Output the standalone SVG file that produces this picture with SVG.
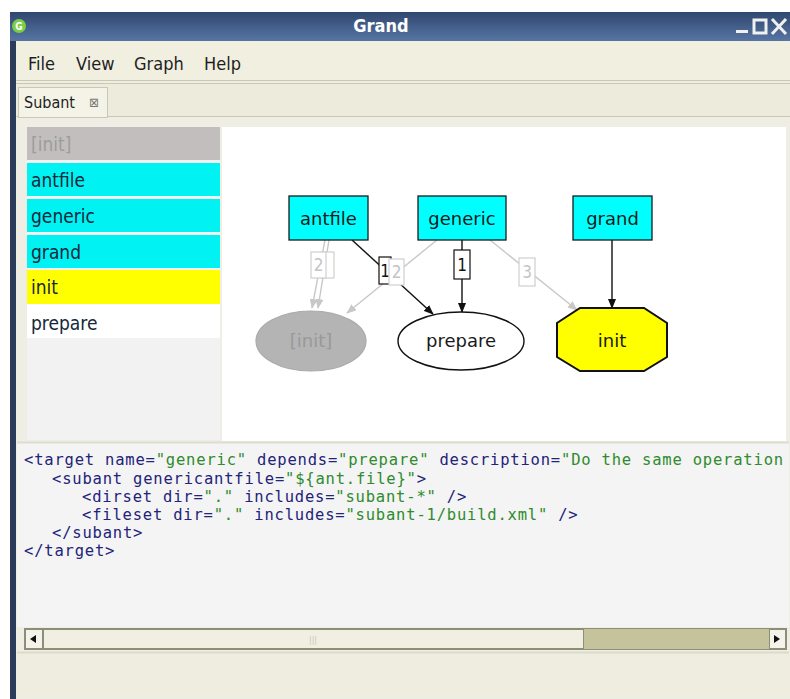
<svg xmlns="http://www.w3.org/2000/svg" width="790" height="699" viewBox="0 0 790 699">
<style>
.ui{font-family:"DejaVu Sans Condensed","DejaVu Sans",sans-serif;}
.menu{font-size:18px;fill:#1e1e1e;}
.li{font-size:19px;fill:#14283a;}
.nt{font-family:"DejaVu Sans",sans-serif;font-size:18px;text-anchor:middle;fill:#1a1a1a;}
.box{fill:#00ffff;stroke:#1a1a1a;stroke-width:1.3;}
.eb{stroke:#111;stroke-width:1.4;fill:none;}
.eg{stroke:#c8c8c8;stroke-width:1.4;fill:none;}
.lb{fill:#fff;stroke:#111;stroke-width:1.2;}
.lg{fill:#fff;stroke:#cfcfcf;stroke-width:1.2;}
.lt{font-family:"DejaVu Sans Condensed","DejaVu Sans",sans-serif;font-size:17px;text-anchor:middle;}
.code{font-family:"DejaVu Sans Mono",monospace;font-size:15.5px;letter-spacing:0.8px;fill:#23237a;}
.v{fill:#2e8b2e;}
</style>
<defs>
<marker id="ab" markerWidth="10" markerHeight="8" refX="9" refY="4" orient="auto" markerUnits="userSpaceOnUse"><path d="M0,0 L10,4 L0,8 z" fill="#111"/></marker>
<marker id="ag" markerWidth="10" markerHeight="8" refX="9" refY="4" orient="auto" markerUnits="userSpaceOnUse"><path d="M0,0 L10,4 L0,8 z" fill="#c8c8c8"/></marker>
<linearGradient id="tb" x1="0" y1="0" x2="0" y2="1"><stop offset="0" stop-color="#2f4770"/><stop offset="1" stop-color="#5775a3"/></linearGradient>
</defs>
<rect width="790" height="699" fill="#ffffff"/>
<g id="window">
<rect x="10" y="12" width="780" height="687" fill="#2c3b58"/>
<rect x="10" y="12" width="780" height="29" fill="url(#tb)"/>
<circle cx="19" cy="26" r="7" fill="#7ccf45"/>
<text x="19" y="30" class="ui" font-size="10" font-weight="bold" fill="#fff" text-anchor="middle">G</text>
<text x="381" y="32" class="ui" font-size="18" font-weight="bold" fill="#ffffff" text-anchor="middle">Grand</text>
<rect x="736" y="30" width="12" height="3" fill="#f0f0f0"/>
<rect x="754" y="20" width="12" height="13" fill="none" stroke="#f0f0f0" stroke-width="3"/>
<path d="M772,19 L786,34 M786,19 L772,34" stroke="#f0f0f0" stroke-width="3"/>
<rect x="16" y="41" width="774" height="658" fill="#efeee2"/>
</g>
<g id="menubar">
<rect x="16" y="41" width="774" height="40" fill="#f0efe0"/>
<line x1="16" y1="80.5" x2="790" y2="80.5" stroke="#c9c8b4"/>
<line x1="16" y1="83.5" x2="790" y2="83.5" stroke="#c9c8b4"/>
<text class="ui menu" x="28" y="70">File</text>
<text class="ui menu" x="76" y="70">View</text>
<text class="ui menu" x="134" y="70">Graph</text>
<text class="ui menu" x="204" y="70">Help</text>
</g>
<g id="tabbar">
<rect x="16" y="84" width="774" height="33" fill="#ecebdc"/>
<line x1="16" y1="116.5" x2="790" y2="116.5" stroke="#c9c8b4"/>
<rect x="18.5" y="87.5" width="89" height="30" fill="#f4f3e8" stroke="#c9c8b4"/>
<text class="ui" x="24" y="108" font-size="16" fill="#1e1e1e">Subant</text>
<text class="ui" x="94" y="107" font-size="13" fill="#777" text-anchor="middle">⊠</text>
</g>
<g id="content">
<rect x="17" y="118" width="773" height="532" fill="#efeee4"/>
<rect x="222" y="127" width="564" height="314" fill="#ffffff"/>
<rect x="17" y="443" width="772" height="184" fill="#f4f4f4"/>
<line x1="17" y1="442.5" x2="789" y2="442.5" stroke="#dedbd0" stroke-width="2"/>
</g>
<g id="list">
<rect x="27" y="127" width="193" height="313" fill="#f2f2f2"/>
<rect x="27" y="127" width="193" height="33" fill="#c2bebe"/>
<rect x="27" y="163" width="193" height="33" fill="#00f2f2"/>
<rect x="27" y="199" width="193" height="33" fill="#00f2f2"/>
<rect x="27" y="235" width="193" height="33" fill="#00f2f2"/>
<rect x="27" y="270" width="193" height="34" fill="#ffff00"/>
<rect x="27" y="304" width="193" height="34" fill="#ffffff"/>
<text class="ui li" x="31" y="151" style="fill:#9c9c9c">[init]</text>
<text class="ui li" x="31" y="187">antfile</text>
<text class="ui li" x="31" y="223">generic</text>
<text class="ui li" x="31" y="259">grand</text>
<text class="ui li" x="31" y="294">init</text>
<text class="ui li" x="31" y="330">prepare</text>
</g>
<g id="connectors">
<line class="eg" x1="325" y1="240" x2="312" y2="308" marker-end="url(#ag)"/>
<line class="eg" x1="329" y1="240" x2="318" y2="308" marker-end="url(#ag)"/>
<line class="eg" x1="437" y1="240" x2="347" y2="313" marker-end="url(#ag)"/>
<line class="eg" x1="490" y1="240" x2="577" y2="310" marker-end="url(#ag)"/>
<line class="eb" x1="352" y1="240" x2="433" y2="314" marker-end="url(#ab)"/>
<line class="eb" x1="462" y1="240" x2="462" y2="312" marker-end="url(#ab)"/>
<line class="eb" x1="612" y1="240" x2="612" y2="308" marker-end="url(#ab)"/>
<rect class="lg" x="321" y="252" width="13" height="26"/>
<rect class="lg" x="311" y="252" width="15" height="26"/>
<text class="lt" x="318.5" y="271" fill="#c4c4c4">2</text>
<rect class="lb" x="379" y="257" width="12" height="27"/>
<text class="lt" x="385" y="277" fill="#111">1</text>
<rect class="lg" x="389" y="259" width="15" height="26"/>
<text class="lt" x="396.5" y="278" fill="#c4c4c4">2</text>
<rect class="lb" x="454" y="250" width="16" height="29"/>
<text class="lt" x="462" y="271" fill="#111">1</text>
<rect class="lg" x="519" y="258" width="16" height="28"/>
<text class="lt" x="527" y="278" fill="#c4c4c4">3</text>
</g>
<g id="node-antfile"><rect class="box" x="289" y="196" width="79" height="44"/><text class="nt" x="328.5" y="225">antfile</text></g>
<g id="node-generic"><rect class="box" x="418" y="196" width="88" height="44"/><text class="nt" x="462" y="225">generic</text></g>
<g id="node-grand"><rect class="box" x="573" y="196" width="79" height="44"/><text class="nt" x="612.5" y="225">grand</text></g>
<g id="node-init-ghost"><ellipse cx="311" cy="341" rx="55" ry="30" fill="#b4b4b4" stroke="#aaaaaa" stroke-width="1.2"/><text class="nt" x="311" y="347" style="fill:#999999">[init]</text></g>
<g id="node-prepare"><ellipse cx="461" cy="341" rx="63" ry="29" fill="#ffffff" stroke="#111" stroke-width="1.4"/><text class="nt" x="461" y="347">prepare</text></g>
<g id="node-init"><polygon points="580,308 644,308 667,323 667,357 644,371 580,371 557,357 557,323" fill="#ffff00" stroke="#111" stroke-width="2"/><text class="nt" x="612" y="347">init</text></g>
<g id="code" xml:space="preserve">
<text class="code" x="24" y="465">&lt;target name=<tspan class="v">"generic"</tspan> depends=<tspan class="v">"prepare"</tspan> description=<tspan class="v">"Do the same operation</tspan></text>
<text class="code" x="52" y="483.5">&lt;subant genericantfile=<tspan class="v">"${ant.file}"</tspan>&gt;</text>
<text class="code" x="82" y="502">&lt;dirset dir=<tspan class="v">"."</tspan> includes=<tspan class="v">"subant-*"</tspan> /&gt;</text>
<text class="code" x="82" y="520">&lt;fileset dir=<tspan class="v">"."</tspan> includes=<tspan class="v">"subant-1/build.xml"</tspan> /&gt;</text>
<text class="code" x="52" y="538">&lt;/subant&gt;</text>
<text class="code" x="24" y="556">&lt;/target&gt;</text>
</g>
<g id="scrollbar">
<rect x="24.5" y="628.5" width="762" height="21" fill="#c4c39c" stroke="#8e8d78"/>
<rect x="43.5" y="629.5" width="540" height="19" fill="#f0efe2" stroke="#8e8d78"/>
<text x="313" y="643" class="ui" font-size="9" fill="#c8c6b8" text-anchor="middle">|||</text>
<rect x="25.5" y="629.5" width="17" height="19" fill="#f4f3ea" stroke="#8e8d78"/>
<path d="M30,639 L36,635 L36,643 z" fill="#111"/>
<rect x="769.5" y="629.5" width="16" height="19" fill="#f4f3ea" stroke="#8e8d78"/>
<path d="M780,639 L774,635 L774,643 z" fill="#111"/>
</g>
<g id="statusbar">
<line x1="17" y1="652.5" x2="789" y2="652.5" stroke="#dcdacb" stroke-width="2"/>
<rect x="17" y="654" width="773" height="44" fill="#eeede0"/>
</g>
</svg>
